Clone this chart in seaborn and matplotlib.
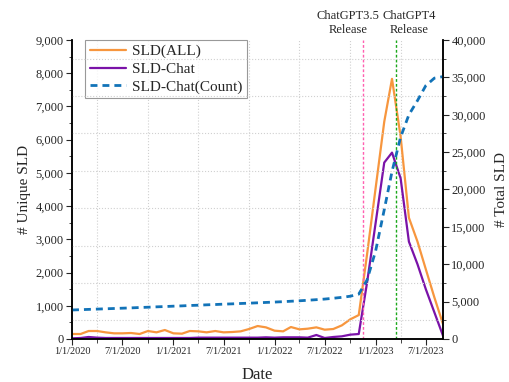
import matplotlib
matplotlib.use("Agg")
import matplotlib.pyplot as plt
import matplotlib.dates as mdates
from matplotlib.lines import Line2D
from matplotlib.ticker import MultipleLocator, FuncFormatter
import numpy as np
import pandas as pd
import seaborn as sns

sns.set_style("ticks")
plt.rcParams["font.family"] = ["Liberation Serif", "DejaVu Serif"]

# ---- data (monthly, Jan 2020 .. Sep 2023) ----
months = pd.date_range("2020-01-01", "2023-09-01", freq="MS")

sld_all = [150, 150, 240, 240, 200, 170, 170, 180, 150, 240,
           200, 270, 170, 160, 240, 230, 200, 240, 200, 210,
           230, 300, 390, 350, 250, 230, 360, 290, 310, 350,
           280, 300, 410, 590, 720, 2550, 4550, 6540, 7830, 6100,
           3650, 2930, 2100, 1250, 450]

sld_chat = [20, 30, 60, 40, 30, 30, 30, 30, 30, 30,
            30, 30, 30, 30, 30, 40, 40, 40, 40, 40,
            40, 40, 40, 50, 40, 50, 50, 50, 40, 120,
            30, 60, 80, 130, 150, 1700, 3500, 5310, 5610, 4840,
            2930, 2250, 1500, 800, 100]

sld_chat_count = [3880, 3920, 3960, 4000, 4040, 4080, 4120, 4160, 4210, 4250,
                  4300, 4340, 4390, 4430, 4480, 4520, 4570, 4610, 4660, 4700,
                  4750, 4790, 4840, 4890, 4940, 4990, 5050, 5110, 5180, 5260,
                  5340, 5450, 5570, 5720, 6000, 7900, 11800, 17300, 22400, 27000,
                  30000, 31900, 33900, 34900, 35100]

events = {"ChatGPT3.5\nRelease": pd.Timestamp("2022-11-15"),
          "ChatGPT4\nRelease": pd.Timestamp("2023-03-14")}

df = pd.DataFrame({"Date": months, "SLD(ALL)": sld_all,
                   "SLD-Chat": sld_chat, "SLD-Chat(Count)": sld_chat_count})

c_all = "#F7963E"
c_chat = "#7A12A8"
c_count = "#1273B8"

fig = plt.figure(figsize=(5.10, 3.82), dpi=100)
ax = fig.add_axes([0.1412, 0.1126, 0.7274, 0.7827])
ax2 = ax.twinx()

# grid from the minor ticks (Origin style)
ax.set_xlim(months[0], months[-1])
ax.xaxis.set_major_locator(mdates.MonthLocator(bymonth=[1, 7]))
ax.xaxis.set_minor_locator(mdates.MonthLocator(bymonth=[4, 10]))
ax.xaxis.set_major_formatter(FuncFormatter(
    lambda v, p: "{0.month}/{0.day}/{0.year}".format(mdates.num2date(v))))
ax.grid(which="minor", axis="x", color="#D0D0D0", ls=":", lw=0.8)
ax2.grid(which="minor", axis="y", color="#D0D0D0", ls=":", lw=0.8)
ax.set_axisbelow(True)

sns.lineplot(data=df, x="Date", y="SLD(ALL)", ax=ax, color=c_all, lw=1.6)
sns.lineplot(data=df, x="Date", y="SLD-Chat", ax=ax, color=c_chat, lw=1.6)
sns.lineplot(data=df, x="Date", y="SLD-Chat(Count)", ax=ax2, color=c_count,
             lw=2.0, ls=(0, (2.5, 1.8)))

for txt, d in events.items():
    col = "#FF5FB0" if "3.5" in txt else "#1AA81A"
    ax.axvline(d, color=col, ls=(0, (2, 1.5)), lw=1.0)

ax.text(0.745, 1.015, "ChatGPT3.5\nRelease", transform=ax.transAxes,
        ha="center", va="bottom", fontsize=9, linespacing=1.2)
ax.text(0.908, 1.015, "ChatGPT4\nRelease", transform=ax.transAxes,
        ha="center", va="bottom", fontsize=9, linespacing=1.2)

ax.set_ylim(0, 9000)
ax.yaxis.set_major_locator(MultipleLocator(1000))
ax.yaxis.set_minor_locator(MultipleLocator(500))
ax.yaxis.set_major_formatter(FuncFormatter(lambda v, p: f"{int(v):,}"))
ax2.set_ylim(0, 40000)
ax2.yaxis.set_major_locator(MultipleLocator(5000))
ax2.yaxis.set_minor_locator(MultipleLocator(2500))
ax2.yaxis.set_major_formatter(FuncFormatter(lambda v, p: f"{int(v):,}"))

ax.set_xlabel("Date", fontsize=12, labelpad=8)
ax.set_ylabel("# Unique SLD", fontsize=11, labelpad=3)
ax2.set_ylabel("# Total SLD", fontsize=11, labelpad=7)

for a in (ax, ax2):
    a.spines["top"].set_visible(False)
    for s in a.spines.values():
        s.set_linewidth(1.1)
        s.set_color("black")
ax.tick_params(axis="x", which="major", labelsize=7.5, length=4, direction="out", pad=2)
ax.tick_params(axis="x", which="minor", length=3, direction="out")
ax.tick_params(axis="y", which="major", labelsize=9, length=4, direction="out", pad=2)
ax.tick_params(axis="y", which="minor", length=2.5, direction="out")
ax2.tick_params(axis="y", which="major", labelsize=9, length=4, direction="out", pad=2)
ax2.tick_params(axis="y", which="minor", length=2.5, direction="out")

handles = [Line2D([], [], color=c_all, lw=1.6),
           Line2D([], [], color=c_chat, lw=1.6),
           Line2D([], [], color=c_count, lw=2.0, ls=(0, (2.5, 1.8)))]
leg = ax.legend(handles, ["SLD(ALL)", "SLD-Chat", "SLD-Chat(Count)"],
                loc="upper left", bbox_to_anchor=(0.035, 1.0), fontsize=11,
                frameon=True, fancybox=False, handlelength=2.4,
                labelspacing=0.25, borderpad=0.3, handletextpad=0.4,
                borderaxespad=0.0)
leg.get_frame().set_edgecolor("#808080")
leg.get_frame().set_linewidth(0.8)
leg.set_zorder(5)

fig.savefig("out.png", dpi=100, facecolor="white")
